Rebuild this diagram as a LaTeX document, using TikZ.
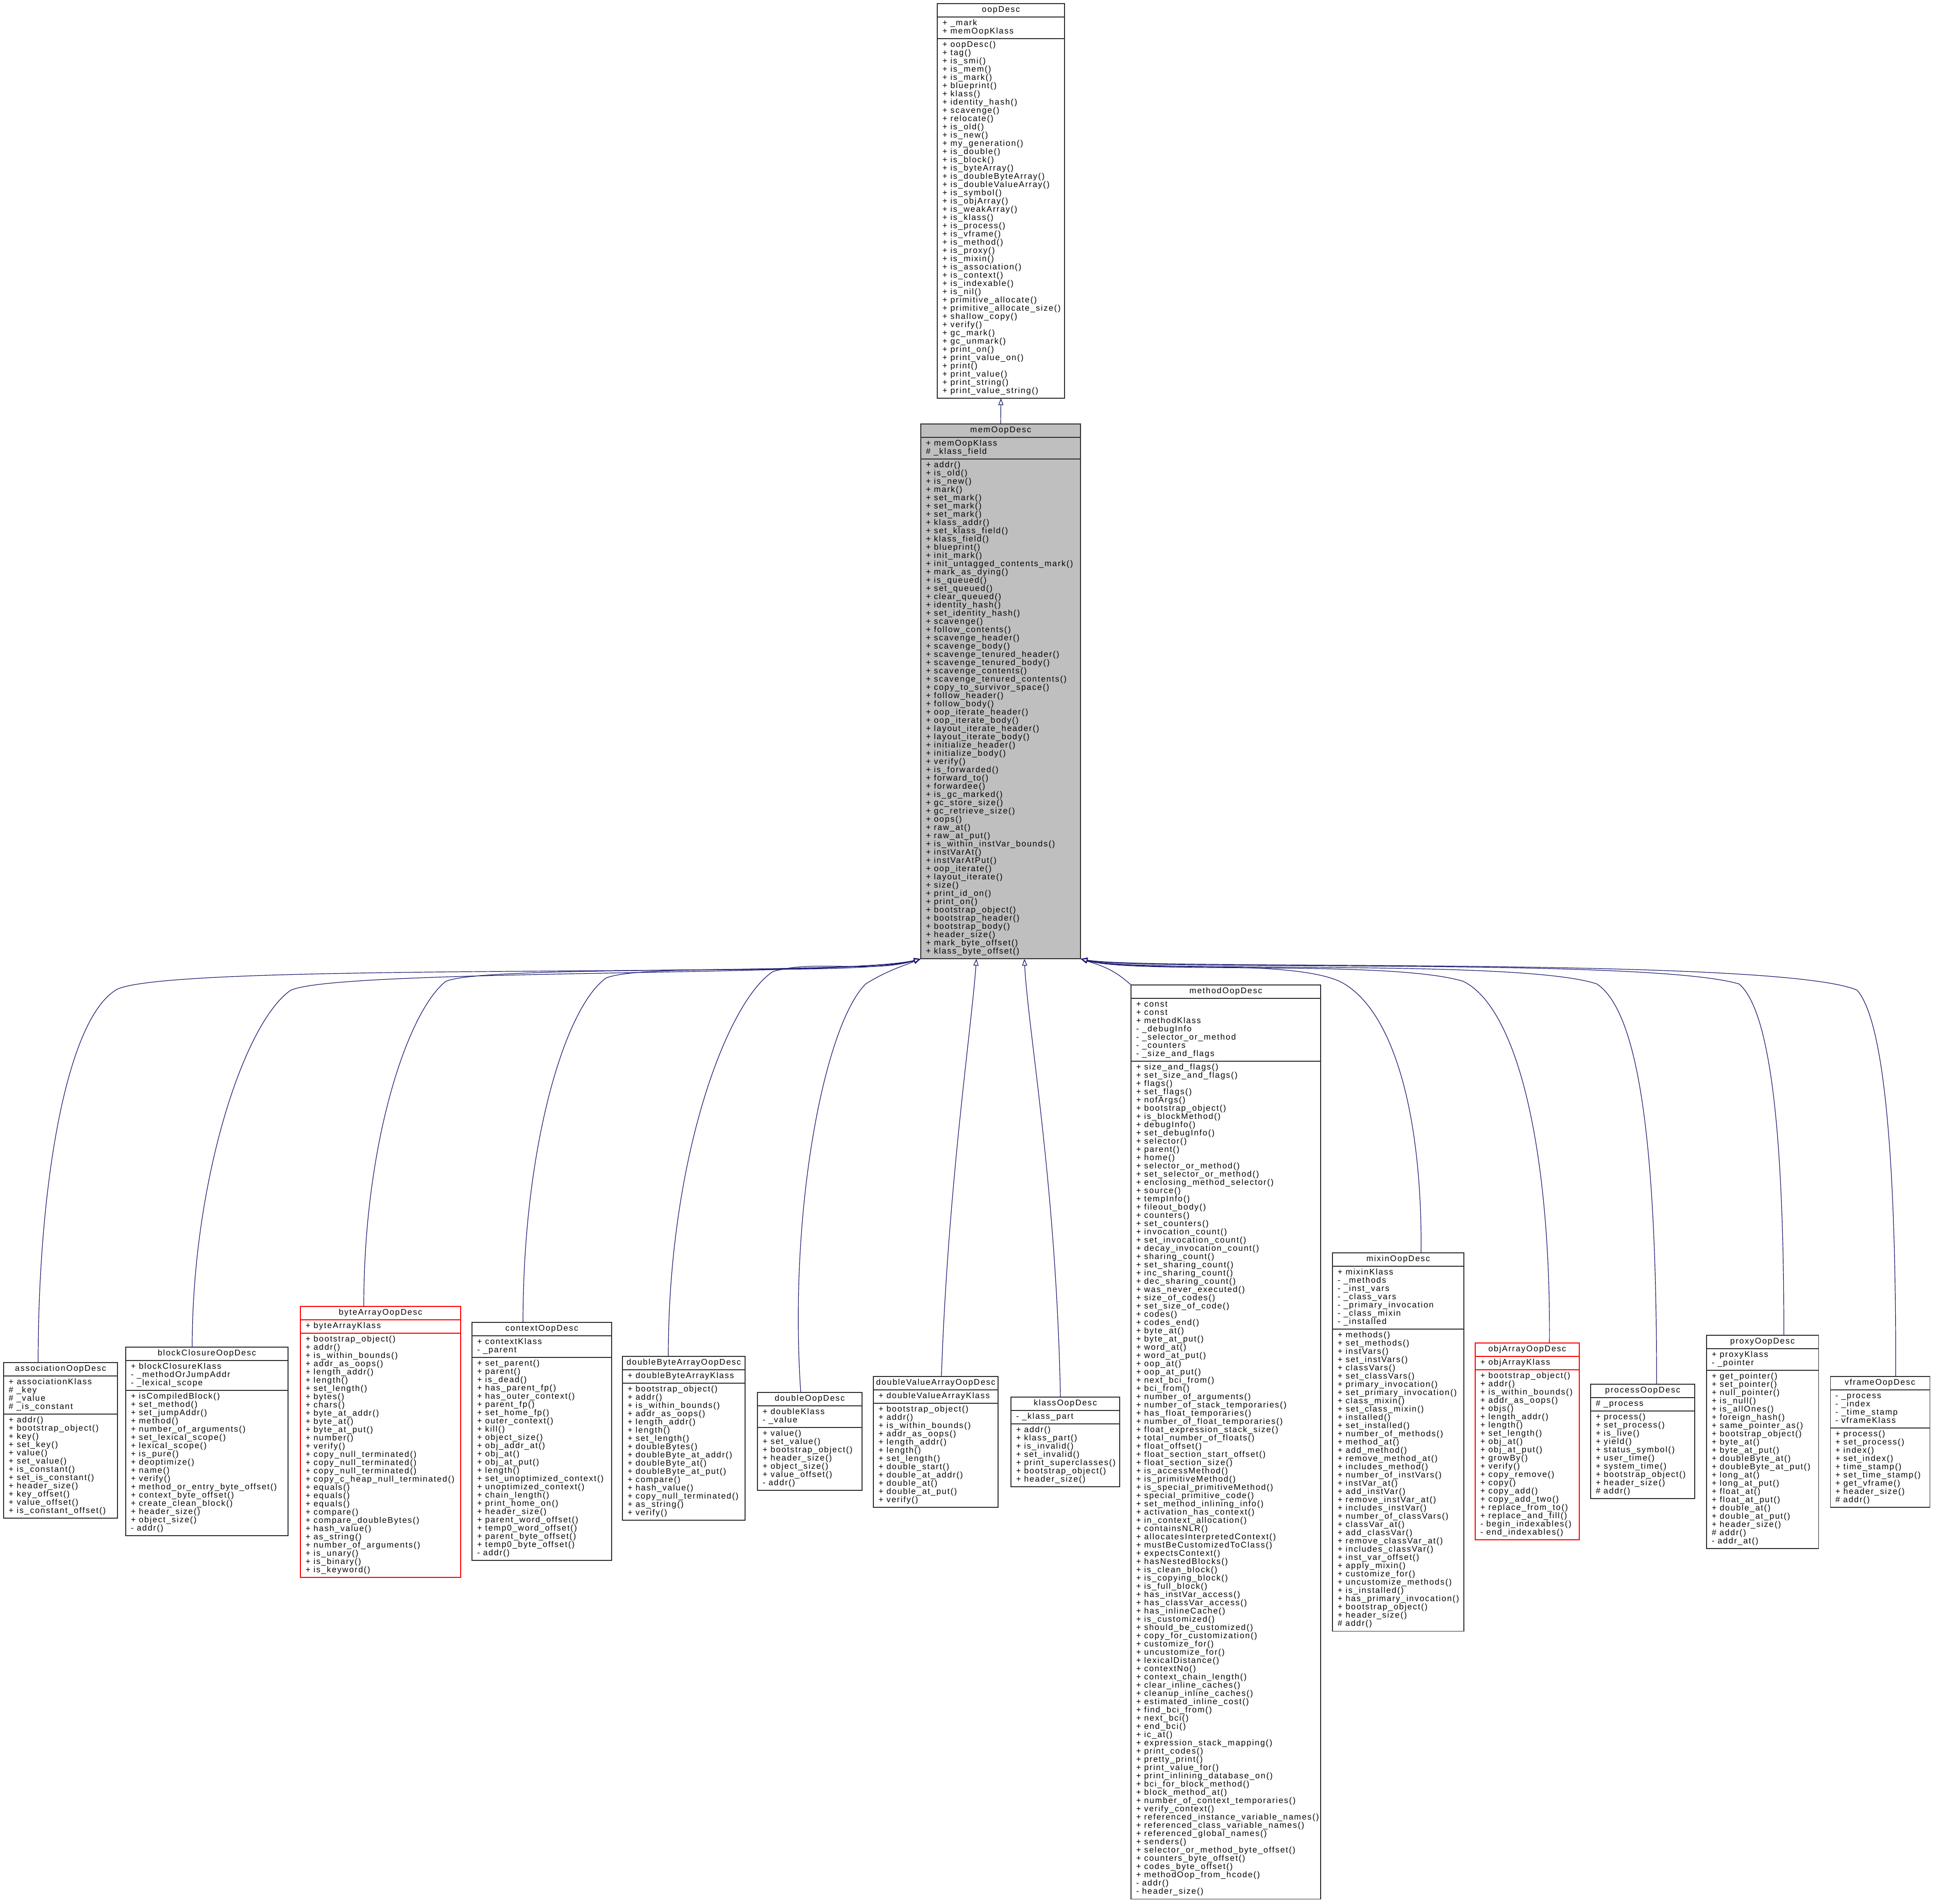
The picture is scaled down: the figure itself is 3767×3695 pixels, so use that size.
\documentclass[tikz,border=0pt]{standalone}
\usepackage{fontspec}
\newfontfamily\umlfont[LetterSpace=11]{Liberation Sans}
\usetikzlibrary{arrows.meta,fit}
\definecolor{edgeblue}{RGB}{25,25,112}
\definecolor{memfill}{RGB}{191,191,191}
\tikzset{
  umlbox/.style={draw=black!80, line width=0.55pt, inner xsep=5pt, inner ysep=2.5pt,
    font=\umlfont\fontsize{8pt}{8pt}\selectfont, outer sep=0pt},
  inh/.style={draw=edgeblue, line width=0.6pt, -{Triangle[open,length=6.5pt,width=5pt]}},
}
\newcommand\umlstrut{\setbox\strutbox\hbox{\vrule height5.9pt depth2.1pt width0pt}}
\newcommand\umlclass[8][]{%
  \pgfmathsetmacro\umltw{(#4-#3)*0.5-10}%
  \node[umlbox,#1,anchor=north west] (#2t) at (#3,#5) {\umlstrut\makebox[\umltw pt][c]{\strut#6}};
  \node[umlbox,#1,anchor=north west] (#2a) at (#2t.south west) {\umlstrut\makebox[\umltw pt][l]{\begin{tabular}{@{}l@{}}#7\end{tabular}}};
  \node[umlbox,#1,anchor=north west] (#2m) at (#2a.south west) {\umlstrut\makebox[\umltw pt][l]{\begin{tabular}{@{}l@{}}#8\end{tabular}}};
  \node[fit=(#2t)(#2m),inner sep=0pt] (#2) {};
}
\begin{document}
\catcode`\_=12
\begin{tikzpicture}[x=0.5pt,y=-0.5pt]
\fill[white] (0,0) rectangle (3767,3695);
\useasboundingbox (0,0) rectangle (3767,3695);

\umlclass{oop}{1819}{2066}{7}{oopDesc}{+ _mark\\+ memOopKlass}{%
+ oopDesc()\\+ tag()\\+ is_smi()\\+ is_mem()\\+ is_mark()\\+ blueprint()\\+ klass()\\+ identity_hash()\\+ scavenge()\\+ relocate()\\%
+ is_old()\\+ is_new()\\+ my_generation()\\+ is_double()\\+ is_block()\\+ is_byteArray()\\+ is_doubleByteArray()\\+ is_doubleValueArray()\\%
+ is_symbol()\\+ is_objArray()\\+ is_weakArray()\\+ is_klass()\\+ is_process()\\+ is_vframe()\\+ is_method()\\+ is_proxy()\\+ is_mixin()\\%
+ is_association()\\+ is_context()\\+ is_indexable()\\+ is_nil()\\+ primitive_allocate()\\+ primitive_allocate_size()\\+ shallow_copy()\\%
+ verify()\\+ gc_mark()\\+ gc_unmark()\\+ print_on()\\+ print_value_on()\\+ print()\\+ print_value()\\+ print_string()\\+ print_value_string()}

\umlclass[fill=memfill]{mem}{1787}{2097}{823}{memOopDesc}{+ memOopKlass\\\# _klass_field}{%
+ addr()\\+ is_old()\\+ is_new()\\+ mark()\\+ set_mark()\\+ set_mark()\\+ set_mark()\\+ klass_addr()\\+ set_klass_field()\\+ klass_field()\\%
+ blueprint()\\+ init_mark()\\+ init_untagged_contents_mark()\\+ mark_as_dying()\\+ is_queued()\\+ set_queued()\\+ clear_queued()\\%
+ identity_hash()\\+ set_identity_hash()\\+ scavenge()\\+ follow_contents()\\+ scavenge_header()\\+ scavenge_body()\\%
+ scavenge_tenured_header()\\+ scavenge_tenured_body()\\+ scavenge_contents()\\+ scavenge_tenured_contents()\\+ copy_to_survivor_space()\\%
+ follow_header()\\+ follow_body()\\+ oop_iterate_header()\\+ oop_iterate_body()\\+ layout_iterate_header()\\+ layout_iterate_body()\\%
+ initialize_header()\\+ initialize_body()\\+ verify()\\+ is_forwarded()\\+ forward_to()\\+ forwardee()\\+ is_gc_marked()\\+ gc_store_size()\\%
+ gc_retrieve_size()\\+ oops()\\+ raw_at()\\+ raw_at_put()\\+ is_within_instVar_bounds()\\+ instVarAt()\\+ instVarAtPut()\\+ oop_iterate()\\%
+ layout_iterate()\\+ size()\\+ print_id_on()\\+ print_on()\\+ bootstrap_object()\\+ bootstrap_header()\\+ bootstrap_body()\\+ header_size()\\%
+ mark_byte_offset()\\+ klass_byte_offset()}

\umlclass{assoc}{7}{228}{2645}{associationOopDesc}{+ associationKlass\\\# _key\\\# _value\\\# _is_constant}{%
+ addr()\\+ bootstrap_object()\\+ key()\\+ set_key()\\+ value()\\+ set_value()\\+ is_constant()\\+ set_is_constant()\\+ header_size()\\%
+ key_offset()\\+ value_offset()\\+ is_constant_offset()}

\umlclass{block}{244}{559}{2615}{blockClosureOopDesc}{+ blockClosureKlass\\- _methodOrJumpAddr\\- _lexical_scope}{%
+ isCompiledBlock()\\+ set_method()\\+ set_jumpAddr()\\+ method()\\+ number_of_arguments()\\+ set_lexical_scope()\\+ lexical_scope()\\%
+ is_pure()\\+ deoptimize()\\+ name()\\+ verify()\\+ method_or_entry_byte_offset()\\+ context_byte_offset()\\+ create_clean_block()\\%
+ header_size()\\+ object_size()\\- addr()}

\umlclass[draw=red]{byte}{583}{894}{2536}{byteArrayOopDesc}{+ byteArrayKlass}{%
+ bootstrap_object()\\+ addr()\\+ is_within_bounds()\\+ addr_as_oops()\\+ length_addr()\\+ length()\\+ set_length()\\+ bytes()\\+ chars()\\%
+ byte_at_addr()\\+ byte_at()\\+ byte_at_put()\\+ number()\\+ verify()\\+ copy_null_terminated()\\+ copy_null_terminated()\\%
+ copy_null_terminated()\\+ copy_c_heap_null_terminated()\\+ equals()\\+ equals()\\+ equals()\\+ compare()\\+ compare_doubleBytes()\\%
+ hash_value()\\+ as_string()\\+ number_of_arguments()\\+ is_unary()\\+ is_binary()\\+ is_keyword()}

\umlclass{context}{916}{1187}{2567}{contextOopDesc}{+ contextKlass\\- _parent}{%
+ set_parent()\\+ parent()\\+ is_dead()\\+ has_parent_fp()\\+ has_outer_context()\\+ parent_fp()\\+ set_home_fp()\\+ outer_context()\\%
+ kill()\\+ object_size()\\+ obj_addr_at()\\+ obj_at()\\+ obj_at_put()\\+ length()\\+ set_unoptimized_context()\\+ unoptimized_context()\\%
+ chain_length()\\+ print_home_on()\\+ header_size()\\+ parent_word_offset()\\+ temp0_word_offset()\\+ parent_byte_offset()\\%
+ temp0_byte_offset()\\- addr()}

\umlclass{dba}{1208}{1446}{2633}{doubleByteArrayOopDesc}{+ doubleByteArrayKlass}{%
+ bootstrap_object()\\+ addr()\\+ is_within_bounds()\\+ addr_as_oops()\\+ length_addr()\\+ length()\\+ set_length()\\+ doubleBytes()\\%
+ doubleByte_at_addr()\\+ doubleByte_at()\\+ doubleByte_at_put()\\+ compare()\\+ hash_value()\\+ copy_null_terminated()\\+ as_string()\\%
+ verify()}

\umlclass{dbl}{1470}{1673}{2703}{doubleOopDesc}{+ doubleKlass\\- _value}{%
+ value()\\+ set_value()\\+ bootstrap_object()\\+ header_size()\\+ object_size()\\+ value_offset()\\- addr()}

\umlclass{dva}{1695}{1937}{2672}{doubleValueArrayOopDesc}{+ doubleValueArrayKlass}{%
+ bootstrap_object()\\+ addr()\\+ is_within_bounds()\\+ addr_as_oops()\\+ length_addr()\\+ length()\\+ set_length()\\+ double_start()\\%
+ double_at_addr()\\+ double_at()\\+ double_at_put()\\+ verify()}

\umlclass{klass}{1962}{2173}{2712}{klassOopDesc}{- _klass_part}{%
+ addr()\\+ klass_part()\\+ is_invalid()\\+ set_invalid()\\+ print_superclasses()\\+ bootstrap_object()\\+ header_size()}

\umlclass{method}{2195}{2563}{1912}{methodOopDesc}{+ const\\+ const\\+ methodKlass\\- _debugInfo\\- _selector_or_method\\- _counters\\- _size_and_flags}{%
+ size_and_flags()\\+ set_size_and_flags()\\+ flags()\\+ set_flags()\\+ nofArgs()\\+ bootstrap_object()\\+ is_blockMethod()\\+ debugInfo()\\%
+ set_debugInfo()\\+ selector()\\+ parent()\\+ home()\\+ selector_or_method()\\+ set_selector_or_method()\\+ enclosing_method_selector()\\%
+ source()\\+ tempInfo()\\+ fileout_body()\\+ counters()\\+ set_counters()\\+ invocation_count()\\+ set_invocation_count()\\%
+ decay_invocation_count()\\+ sharing_count()\\+ set_sharing_count()\\+ inc_sharing_count()\\+ dec_sharing_count()\\+ was_never_executed()\\%
+ size_of_codes()\\+ set_size_of_code()\\+ codes()\\+ codes_end()\\+ byte_at()\\+ byte_at_put()\\+ word_at()\\+ word_at_put()\\+ oop_at()\\%
+ oop_at_put()\\+ next_bci_from()\\+ bci_from()\\+ number_of_arguments()\\+ number_of_stack_temporaries()\\+ has_float_temporaries()\\%
+ number_of_float_temporaries()\\+ float_expression_stack_size()\\+ total_number_of_floats()\\+ float_offset()\\+ float_section_start_offset()\\%
+ float_section_size()\\+ is_accessMethod()\\+ is_primitiveMethod()\\+ is_special_primitiveMethod()\\+ special_primitive_code()\\%
+ set_method_inlining_info()\\+ activation_has_context()\\+ in_context_allocation()\\+ containsNLR()\\+ allocatesInterpretedContext()\\%
+ mustBeCustomizedToClass()\\+ expectsContext()\\+ hasNestedBlocks()\\+ is_clean_block()\\+ is_copying_block()\\+ is_full_block()\\%
+ has_instVar_access()\\+ has_classVar_access()\\+ has_inlineCache()\\+ is_customized()\\+ should_be_customized()\\+ copy_for_customization()\\%
+ customize_for()\\+ uncustomize_for()\\+ lexicalDistance()\\+ contextNo()\\+ context_chain_length()\\+ clear_inline_caches()\\%
+ cleanup_inline_caches()\\+ estimated_inline_cost()\\+ find_bci_from()\\+ next_bci()\\+ end_bci()\\+ ic_at()\\+ expression_stack_mapping()\\%
+ print_codes()\\+ pretty_print()\\+ print_value_for()\\+ print_inlining_database_on()\\+ bci_for_block_method()\\+ block_method_at()\\%
+ number_of_context_temporaries()\\+ verify_context()\\+ referenced_instance_variable_names()\\+ referenced_class_variable_names()\\%
+ referenced_global_names()\\+ senders()\\+ selector_or_method_byte_offset()\\+ counters_byte_offset()\\+ codes_byte_offset()\\%
+ methodOop_from_hcode()\\- addr()\\- header_size()}

\umlclass{mixin}{2586}{2841}{2432}{mixinOopDesc}{+ mixinKlass\\- _methods\\- _inst_vars\\- _class_vars\\- _primary_invocation\\- _class_mixin\\- _installed}{%
+ methods()\\+ set_methods()\\+ instVars()\\+ set_instVars()\\+ classVars()\\+ set_classVars()\\+ primary_invocation()\\%
+ set_primary_invocation()\\+ class_mixin()\\+ set_class_mixin()\\+ installed()\\+ set_installed()\\+ number_of_methods()\\+ method_at()\\%
+ add_method()\\+ remove_method_at()\\+ includes_method()\\+ number_of_instVars()\\+ instVar_at()\\+ add_instVar()\\+ remove_instVar_at()\\%
+ includes_instVar()\\+ number_of_classVars()\\+ classVar_at()\\+ add_classVar()\\+ remove_classVar_at()\\+ includes_classVar()\\%
+ inst_var_offset()\\+ apply_mixin()\\+ customize_for()\\+ uncustomize_methods()\\+ is_installed()\\+ has_primary_invocation()\\%
+ bootstrap_object()\\+ header_size()\\\# addr()}

\umlclass[draw=red]{objarr}{2863}{3065}{2607}{objArrayOopDesc}{+ objArrayKlass}{%
+ bootstrap_object()\\+ addr()\\+ is_within_bounds()\\+ addr_as_oops()\\+ objs()\\+ length_addr()\\+ length()\\+ set_length()\\+ obj_at()\\%
+ obj_at_put()\\+ growBy()\\+ verify()\\+ copy_remove()\\+ copy()\\+ copy_add()\\+ copy_add_two()\\+ replace_from_to()\\+ replace_and_fill()\\%
- begin_indexables()\\- end_indexables()}

\umlclass{process}{3087}{3289}{2687}{processOopDesc}{\# _process}{%
+ process()\\+ set_process()\\+ is_live()\\+ yield()\\+ status_symbol()\\+ user_time()\\+ system_time()\\+ bootstrap_object()\\%
+ header_size()\\\# addr()}

\umlclass{proxy}{3312}{3529}{2592}{proxyOopDesc}{+ proxyKlass\\- _pointer}{%
+ get_pointer()\\+ set_pointer()\\+ null_pointer()\\+ is_null()\\+ is_allOnes()\\+ foreign_hash()\\+ same_pointer_as()\\+ bootstrap_object()\\%
+ byte_at()\\+ byte_at_put()\\+ doubleByte_at()\\+ doubleByte_at_put()\\+ long_at()\\+ long_at_put()\\+ float_at()\\+ float_at_put()\\%
+ double_at()\\+ double_at_put()\\+ header_size()\\\# addr()\\- addr_at()}

\umlclass{vframe}{3552}{3745}{2672}{vframeOopDesc}{- _process\\- _index\\- _time_stamp\\- vframeKlass}{%
+ process()\\+ set_process()\\+ index()\\+ set_index()\\+ time_stamp()\\+ set_time_stamp()\\+ get_vframe()\\+ header_size()\\\# addr()}

% inheritance connectors
\draw[inh] (mem.north) -- (oop.south);
\draw[inh] ([xshift=-21.75pt]assoc.north) .. controls (74,2313) and (126,1981) .. (226,1921) .. controls (330,1866) and (1650,1900) .. (mem.south west);
\draw[inh] ([xshift=-14.25pt]block.north) .. controls (373,2300) and (470,1990) .. (563,1923) .. controls (640,1880) and (1650,1896) .. (mem.south west);
\draw[inh] ([xshift=-16.25pt]byte.north) .. controls (706,2220) and (790,1965) .. (865,1905) .. controls (940,1872) and (1655,1893) .. (mem.south west);
\draw[inh] ([xshift=-18.25pt]context.north) .. controls (1015,2230) and (1095,1955) .. (1177,1898) .. controls (1260,1868) and (1660,1896) .. (mem.south west);
\draw[inh] ([xshift=-15pt]dba.north) .. controls (1297,2250) and (1410,1945) .. (1500,1886) .. controls (1580,1862) and (1690,1890) .. (mem.south west);
\draw[inh] ([xshift=-8.75pt]dbl.north) .. controls (1530,2350) and (1600,1990) .. (1680,1910) .. controls (1720,1885) and (1750,1876) .. (mem.south west);
\draw[inh] ([xshift=5.5pt]dva.north) .. controls (1840,2300) and (1885,2000) .. ([xshift=-23.5pt]mem.south);
\draw[inh] ([xshift=-4.75pt]klass.north) .. controls (2050,2300) and (1995,2000) .. ([xshift=23pt]mem.south);
\draw[inh] (method.north west) .. controls (2160,1880) and (2135,1874) .. (mem.south east);
\draw[inh] ([xshift=22.25pt]mixin.north) .. controls (2760,2150) and (2700,1955) .. (2600,1905) .. controls (2500,1860) and (2200,1888) .. (mem.south east);
\draw[inh] ([xshift=21.5pt]objarr.north) .. controls (3010,2250) and (2950,1960) .. (2840,1905) .. controls (2700,1862) and (2205,1892) .. (mem.south east);
\draw[inh] ([xshift=13.5pt]process.north) .. controls (3215,2280) and (3190,1970) .. (3099,1910) .. controls (2950,1860) and (2210,1890) .. (mem.south east);
\draw[inh] ([xshift=20.75pt]proxy.north) .. controls (3462,2230) and (3440,1965) .. (3375,1910) .. controls (3200,1858) and (2215,1886) .. (mem.south east);
\draw[inh] ([xshift=15.25pt]vframe.north) .. controls (3680,2280) and (3660,1985) .. (3604,1922) .. controls (3450,1856) and (2220,1884) .. (mem.south east);
\end{tikzpicture}
\end{document}
